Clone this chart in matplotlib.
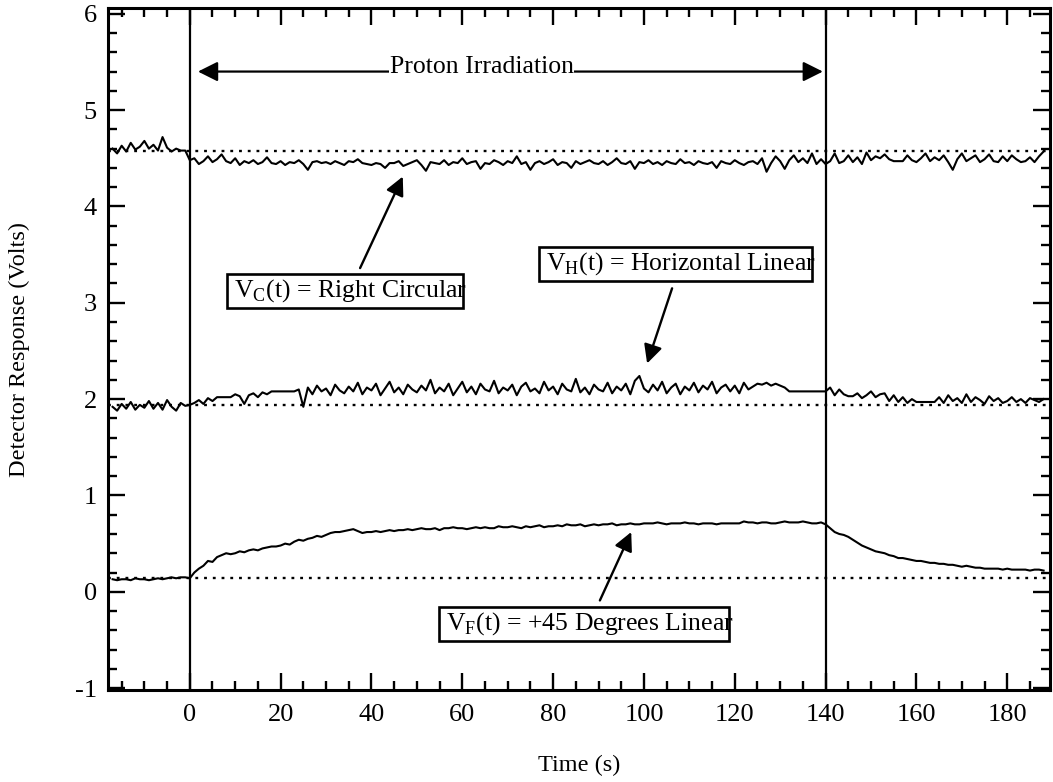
import numpy as np
import matplotlib
matplotlib.use("Agg")
import matplotlib.pyplot as plt
from matplotlib.ticker import MultipleLocator
from matplotlib.patches import Rectangle

plt.rcParams['font.family'] = ['Liberation Serif', 'DejaVu Serif']
plt.rcParams['mathtext.fontset'] = 'custom'
plt.rcParams['mathtext.rm'] = 'Liberation Serif'

# ---- data (1 s samples, t = -17 ... 188 s) ----
t_start, t_end = -17, 188

vc_pre = [4.60, 4.55, 4.63, 4.57, 4.66, 4.59, 4.62, 4.68, 4.60, 4.64, 4.58, 4.72, 4.61, 4.57, 4.60, 4.58, 4.58]
vc_main = [4.48, 4.50, 4.44, 4.47, 4.52, 4.46, 4.49, 4.54, 4.47, 4.45,
           4.50, 4.43, 4.47, 4.45, 4.48, 4.44, 4.46, 4.51, 4.45, 4.44,
           4.47, 4.43, 4.46, 4.45, 4.48, 4.44, 4.38, 4.46, 4.47, 4.45,
           4.46, 4.44, 4.47, 4.45, 4.43, 4.47, 4.46, 4.49, 4.45, 4.44,
           4.43, 4.45, 4.44, 4.40, 4.45, 4.45, 4.47, 4.42, 4.44, 4.46,
           4.48, 4.43, 4.37, 4.46, 4.45, 4.44, 4.48, 4.43, 4.46, 4.45,
           4.50, 4.44, 4.46, 4.47, 4.39, 4.45, 4.44, 4.48, 4.46, 4.43,
           4.47, 4.45, 4.52, 4.44, 4.46, 4.38, 4.45, 4.47, 4.44, 4.46,
           4.49, 4.43, 4.46, 4.45, 4.40, 4.47, 4.44, 4.46, 4.48, 4.45,
           4.44, 4.47, 4.43, 4.46, 4.50, 4.45, 4.44, 4.47, 4.39, 4.46,
           4.45, 4.48, 4.44, 4.46, 4.43, 4.47, 4.45, 4.44, 4.49, 4.45,
           4.46, 4.43, 4.47, 4.45, 4.44, 4.46, 4.40, 4.47, 4.45, 4.44,
           4.48, 4.45, 4.43, 4.46, 4.47, 4.44, 4.50, 4.36, 4.45, 4.52,
           4.47, 4.39, 4.48, 4.53, 4.46, 4.50, 4.45, 4.55, 4.44, 4.49]
vc_post = [4.44, 4.47, 4.55, 4.45, 4.47, 4.53, 4.46, 4.51, 4.44, 4.56,
           4.48, 4.52, 4.50, 4.54, 4.49, 4.47, 4.47, 4.47, 4.53, 4.48,
           4.46, 4.50, 4.55, 4.47, 4.51, 4.48, 4.53, 4.46, 4.38, 4.49,
           4.55, 4.47, 4.50, 4.53, 4.46, 4.49, 4.54, 4.47, 4.46, 4.52,
           4.47, 4.53, 4.49, 4.46, 4.47, 4.51, 4.46, 4.52, 4.57]

vh_pre = [1.92, 1.88, 1.95, 1.90, 1.97, 1.89, 1.94, 1.91, 1.98, 1.90, 1.96, 1.89, 1.99, 1.92, 1.88, 1.96, 1.93]
vh_main = [1.94, 1.96, 1.99, 1.95, 2.01, 1.98, 2.02, 2.02, 2.02, 2.02,
           2.05, 2.03, 1.95, 2.04, 2.06, 2.02, 2.07, 2.05, 2.08, 2.08,
           2.08, 2.08, 2.08, 2.08, 2.10, 1.92, 2.12, 2.05, 2.14, 2.08,
           2.11, 2.04, 2.15, 2.09, 2.06, 2.13, 2.08, 2.17, 2.05, 2.12,
           2.09, 2.16, 2.04, 2.11, 2.18, 2.07, 2.12, 2.05, 2.15, 2.10,
           2.07, 2.14, 2.09, 2.20, 2.06, 2.12, 2.08, 2.16, 2.04, 2.11,
           2.18, 2.07, 2.13, 2.05, 2.16, 2.10, 2.08, 2.19, 2.06, 2.12,
           2.09, 2.15, 2.04, 2.13, 2.17, 2.08, 2.11, 2.06, 2.18, 2.09,
           2.13, 2.05, 2.16, 2.10, 2.08, 2.21, 2.07, 2.12, 2.05, 2.15,
           2.10, 2.08, 2.17, 2.06, 2.13, 2.09, 2.16, 2.05, 2.19, 2.24,
           2.11, 2.07, 2.15, 2.09, 2.18, 2.06, 2.12, 2.16, 2.05, 2.13,
           2.09, 2.17, 2.07, 2.14, 2.10, 2.18, 2.06, 2.12, 2.15, 2.08,
           2.14, 2.06, 2.17, 2.10, 2.13, 2.16, 2.15, 2.17, 2.14, 2.16,
           2.14, 2.12, 2.08, 2.08, 2.08, 2.08, 2.08, 2.08, 2.08, 2.08]
vh_post = [2.08, 2.12, 2.04, 2.10, 2.05, 2.03, 2.03, 2.06, 2.01, 2.04,
           2.08, 2.02, 2.05, 2.06, 1.98, 2.04, 1.97, 2.02, 1.96, 2.00,
           1.97, 1.97, 1.97, 1.97, 1.97, 2.02, 1.96, 2.04, 1.98, 2.01,
           1.96, 2.05, 1.97, 2.02, 1.99, 1.95, 2.03, 1.98, 2.01, 1.96,
           1.98, 2.02, 1.97, 2.00, 1.96, 2.01, 1.99, 1.97, 2.00]

vf_pre = [0.13, 0.12, 0.13, 0.13, 0.12, 0.14, 0.13, 0.13, 0.12, 0.13, 0.14, 0.13, 0.14, 0.15, 0.14, 0.15, 0.15]
vf_main = [0.14, 0.20, 0.24, 0.27, 0.32, 0.31, 0.36, 0.38, 0.40, 0.39,
           0.40, 0.42, 0.41, 0.43, 0.44, 0.43, 0.45, 0.46, 0.47, 0.47,
           0.48, 0.50, 0.49, 0.52, 0.54, 0.53, 0.55, 0.56, 0.58, 0.57,
           0.59, 0.61, 0.62, 0.62, 0.63, 0.64, 0.65, 0.63, 0.61, 0.62,
           0.62, 0.63, 0.62, 0.63, 0.64, 0.63, 0.64, 0.64, 0.65, 0.64,
           0.65, 0.66, 0.65, 0.65, 0.66, 0.64, 0.66, 0.66, 0.67, 0.66,
           0.66, 0.65, 0.66, 0.67, 0.66, 0.67, 0.66, 0.66, 0.68, 0.67,
           0.67, 0.68, 0.67, 0.66, 0.68, 0.67, 0.68, 0.69, 0.67, 0.68,
           0.68, 0.69, 0.68, 0.70, 0.69, 0.69, 0.70, 0.68, 0.69, 0.70,
           0.69, 0.70, 0.70, 0.71, 0.69, 0.70, 0.70, 0.71, 0.70, 0.70,
           0.71, 0.71, 0.71, 0.72, 0.71, 0.70, 0.71, 0.71, 0.71, 0.72,
           0.71, 0.71, 0.70, 0.71, 0.71, 0.71, 0.70, 0.71, 0.71, 0.71,
           0.71, 0.71, 0.73, 0.72, 0.72, 0.71, 0.72, 0.72, 0.71, 0.71,
           0.72, 0.73, 0.72, 0.72, 0.72, 0.73, 0.72, 0.71, 0.71, 0.72]
vf_post = [0.70, 0.66, 0.62, 0.60, 0.59, 0.57, 0.54, 0.51, 0.48, 0.46,
           0.44, 0.42, 0.41, 0.40, 0.38, 0.37, 0.35, 0.35, 0.34, 0.33,
           0.32, 0.32, 0.31, 0.30, 0.30, 0.29, 0.29, 0.28, 0.28, 0.27,
           0.26, 0.27, 0.26, 0.25, 0.25, 0.24, 0.24, 0.24, 0.24, 0.23,
           0.24, 0.23, 0.23, 0.23, 0.23, 0.22, 0.23, 0.23, 0.22]

baselines = [4.58, 1.94, 0.14]
irradiation_on, irradiation_off = 0, 140

x_tick_labels = ['0', '20', '40', '60', '80', '100', '120', '140', '160', '180']
y_tick_labels = ['-1', '0', '1', '2', '3', '4', '5', '6']

labels = [r'V$_\mathregular{C}$(t) = Right Circular',
          r'V$_\mathregular{H}$(t) = Horizontal Linear',
          r'V$_\mathregular{F}$(t) = +45 Degrees Linear']

time = np.arange(t_start, t_end + 1)
vc = np.array(vc_pre + vc_main + vc_post)
vh = np.array(vh_pre + vh_main + vh_post)
vf = np.array(vf_pre + vf_main + vf_post)

# ---- figure ----
fig = plt.figure(figsize=(10.53, 7.82), dpi=100)
ax = fig.add_axes([0.1026, 0.1176, 0.8945, 0.8722])

for v in (vc, vh, vf):
    ax.plot(time, v, color='black', lw=1.5)
for b in baselines:
    ax.axhline(b, color='black', lw=1.7, linestyle=(0, (1.2, 2.5)))
for xv in (irradiation_on, irradiation_off):
    ax.axvline(xv, color='black', lw=1.6)

ax.set_xlim(-18.0, 189.4)
ax.set_ylim(-1.02, 6.06)

ax.xaxis.set_minor_locator(MultipleLocator(5))
ax.yaxis.set_minor_locator(MultipleLocator(0.2))
ax.set_xticks([int(s) for s in x_tick_labels])
ax.set_xticklabels(x_tick_labels)
ax.set_yticks([int(s) for s in y_tick_labels])
ax.set_yticklabels(y_tick_labels)

ax.tick_params(which='both', direction='in', top=True, right=True, width=1.7, labelsize=19)
ax.tick_params(which='major', length=12)
ax.tick_params(axis='x', which='major', pad=10)
ax.tick_params(axis='y', which='major', pad=8)
ax.tick_params(which='minor', length=6.5)
for s in ax.spines.values():
    s.set_linewidth(2.2)

ax.set_xlabel('Time (s)', fontsize=17.5, labelpad=21)
ax.set_ylabel('Detector Response (Volts)', fontsize=17.5, labelpad=32)

# proton irradiation double arrow
ax.annotate('', xy=(1.8, 5.40), xytext=(139.4, 5.40),
            arrowprops=dict(arrowstyle='<|-|>', color='black', lw=1.6, mutation_scale=30,
                            shrinkA=0, shrinkB=0))
ax.text(64.3, 5.385, 'Proton Irradiation', fontsize=18.5, ha='center', va='baseline',
        bbox=dict(facecolor='white', edgecolor='none', pad=0.3))

arrow = dict(arrowstyle='-|>', color='black', lw=1.7, mutation_scale=28, shrinkA=0, shrinkB=0)

ax.annotate('', xy=(46.9, 4.31), xytext=(37.5, 3.36), arrowprops=arrow)
ax.annotate('', xy=(100.7, 2.37), xytext=(106.2, 3.15), arrowprops=arrow)
ax.annotate('', xy=(97.2, 0.62), xytext=(90.3, -0.09), arrowprops=arrow)

text_pos = [(35.3, 3.13), (108.2, 3.41), (88.0, -0.33)]
texts = []
for (tx, ty), lab in zip(text_pos, labels):
    texts.append(ax.text(tx, ty, lab, fontsize=18.5, ha='center', va='center', zorder=5))

fig.canvas.draw()
renderer = fig.canvas.get_renderer()
inv = ax.transData.inverted()
for tobj in texts:
    ext = tobj.get_window_extent(renderer)
    x0, y0 = inv.transform((ext.x0 - 7, ext.y0 - 4))
    x1, y1 = inv.transform((ext.x1 - 4, ext.y1 + 3))
    ax.add_patch(Rectangle((x0, y0), x1 - x0, y1 - y0, facecolor='white',
                           edgecolor='black', lw=1.9, zorder=4))

fig.savefig('out.png', dpi=100)
